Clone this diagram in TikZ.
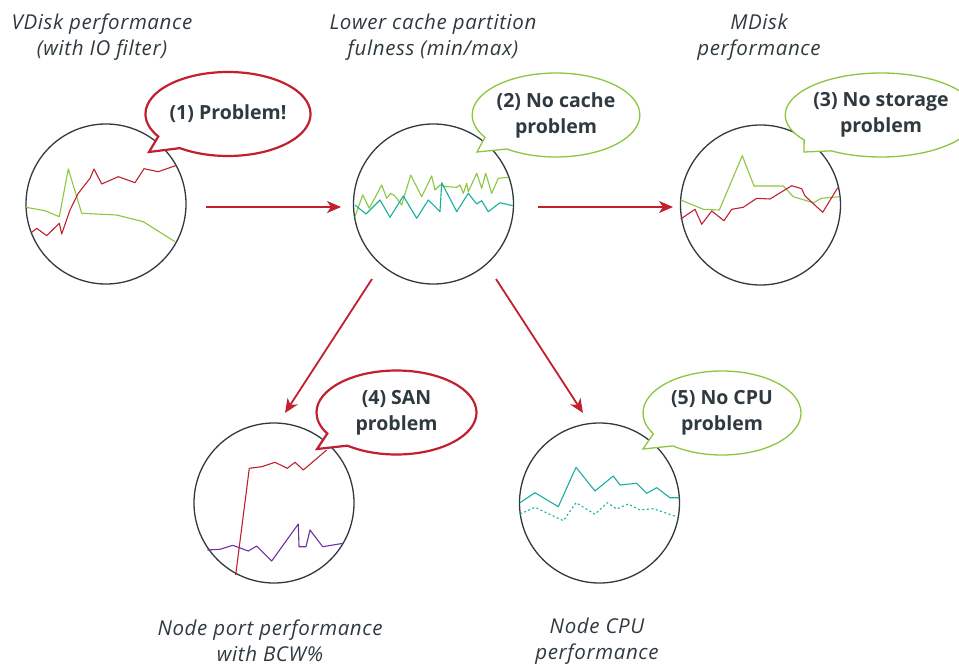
\documentclass[tikz,border=0pt]{standalone}
\usepackage{fontspec}
\setmainfont{Open Sans}
\newfontfamily\titlefont[LetterSpace=3]{Open Sans}
\usetikzlibrary{shapes.callouts,arrows.meta}
\definecolor{ink}{HTML}{2F3A40}
\definecolor{cred}{HTML}{C21F2F}
\definecolor{cgreen}{HTML}{8CC63F}
\definecolor{cteal}{HTML}{1AADA0}
\definecolor{cpurple}{HTML}{7030A0}
\tikzset{
  chartcircle/.style={circle, draw=ink, line width=1.3pt, minimum size=160pt, inner sep=0pt},
  bubble/.style={ellipse callout, fill=white, minimum width=160pt, minimum height=84pt, inner sep=0pt,
     callout pointer arc=22, text=ink, font=\bfseries\fontsize{19.5}{26}\selectfont, align=center},
  redbubble/.style={bubble, draw=cred, line width=2.2pt},
  greenbubble/.style={bubble, draw=cgreen, line width=1.3pt},
  title/.style={text=ink, font=\titlefont\itshape\fontsize{20.5}{26}\selectfont, align=center},
  flow/.style={draw=cred, line width=1.8pt, -{Stealth[length=14pt,width=12pt,inset=4pt]}},
  series/.style={line width=1.1pt, line join=round},
}
\begin{document}
\begin{tikzpicture}[x=1pt,y=-1pt]
\useasboundingbox (0,0) rectangle (959,666);

% titles
\node[title] (t1) at (102,37) {VDisk performance\\(with IO filter)};
\node[title] (t2) at (433,37) {Lower cache partition\\fulness (min/max)};
\node[title] (t3) at (759,37) {MDisk\\performance};
\node[title] (t4) at (270,641) {Node port performance\\with BCW\%};
\node[title] (t5) at (597,641) {Node CPU\\performance};

% circles
\node[chartcircle] (c1) at (106,204) {};
\node[chartcircle] (c2) at (433.5,204) {};
\node[chartcircle] (c3) at (760.5,205) {};
\node[chartcircle] (c4) at (274,503) {};
\node[chartcircle] (c5) at (599.5,503) {};

% chart 1
\draw[series, cgreen] (26,207.3)--(45,210.7)--(59.3,216.7)--(68.3,169)--(81.7,213.3)--(116.7,215)--(143.3,221.7)--(175,241.7);
\draw[series, cred] (31.7,232.3)--(36.7,228.3)--(46.7,235.7)--(59.3,223.3)--(61.7,234)--(70,210)--(78.3,193.3)--(90,178.3)--(94,169)--(101.7,184)--(118.3,176.7)--(135,182.7)--(144,168.7)--(158.3,171.7)--(176,165.5);

% chart 2
\draw[series, cgreen] (355,216.7)--(362.7,195)--(369.3,208.3)--(381.7,185)--(386.7,198.3)--(390.7,193.3)--(395,196)--(401.7,205)--(410.7,175)--(421.7,196.7)--(431.7,176)--(435,190)--(440,185)--(446.7,186.7)--(456.7,187.3)--(460,185)--(463.3,193.3)--(466.7,183.3)--(468.3,191.7)--(476.7,173.3)--(481.7,188.3)--(485.7,173.3)--(491.7,193.3)--(498.3,178.3)--(508.3,177.3);
\draw[series, cteal] (355,205)--(366,214)--(380,200)--(390,217.3)--(403.3,196)--(416.7,218.3)--(428.3,200)--(440,211.7)--(441.7,182.7)--(456.7,211.7)--(468.3,193.3)--(476.7,204)--(481.7,200.7)--(488.3,211.7)--(500,202.7)--(512.7,205.7);

% chart 3
\draw[series, cgreen] (680.7,200)--(703.3,209.3)--(719.3,210)--(742.3,155.7)--(754,186)--(783.3,186)--(793.3,196.7)--(813.3,202.7)--(821.7,198.3)--(839.3,196.7);
\draw[series, cred] (680.7,219)--(695,209.3)--(701.7,224.3)--(711.7,211)--(724,220.7)--(731.7,209.3)--(743.3,207.3)--(756.7,198.3)--(770,199)--(791.7,185.7)--(801.7,188.7)--(805,196)--(822.7,212.3)--(837.7,187.7);

% chart 4
\draw[series, cred] (235.7,575)--(249.3,468.3)--(261.7,466.7)--(275,462.3)--(287.3,468.3)--(295,462.3)--(303.3,470)--(326.7,450);
\draw[series, cpurple] (207.3,550)--(220,549.3)--(232.7,545.3)--(248.3,551)--(256.7,546)--(271.7,561)--(298.3,524)--(299,546.7)--(306,546.7)--(310,530)--(322.7,546.7)--(343.3,543.3);

% chart 5
\draw[series, cteal] (520,502.7)--(535,492.7)--(558.3,506.7)--(576,467.3)--(595,491)--(613.3,476)--(620,485)--(636.7,483.3)--(646.7,493.3)--(656.7,487.7)--(670,497.7)--(679.3,497.7);
\draw[series, cteal, dash pattern=on 2pt off 2.5pt] (520,514)--(535,507.3)--(563.3,520.7)--(576,502.7)--(595,514.3)--(607.3,502.7)--(616.7,509)--(628.3,504)--(640,510)--(653.3,508.7)--(676.7,516.7);

% bubbles
\node[redbubble, callout absolute pointer={(149,152)}] (b1) at (228,114) {(1) Problem!};
\node[greenbubble, minimum width=158pt, callout absolute pointer={(477,152)}] (b2) at (556,115) {(2) No cache\\problem};
\node[greenbubble, minimum width=154pt, callout absolute pointer={(804,152)}] (b3) at (881,115) {(3) No storage\\problem};
\node[redbubble, callout absolute pointer={(317,449)}] (b4) at (396.5,412.5) {(4) SAN\\problem};
\node[greenbubble, minimum width=158pt, callout absolute pointer={(643,449)}] (b5) at (722,413) {(5) No CPU\\problem};

% arrows
\coordinate (a1s) at (206,207);
\coordinate (a1e) at (341,207);
\coordinate (a2s) at (538,207);
\coordinate (a2e) at (673,207);
\coordinate (a3s) at (372,279);
\coordinate (a3e) at (285,413);
\coordinate (a4s) at (496,279);
\coordinate (a4e) at (583,413);
\draw[flow] (a1s) -- (a1e);
\draw[flow] (a2s) -- (a2e);
\draw[flow] (a3s) -- (a3e);
\draw[flow] (a4s) -- (a4e);
\end{tikzpicture}
\end{document}
